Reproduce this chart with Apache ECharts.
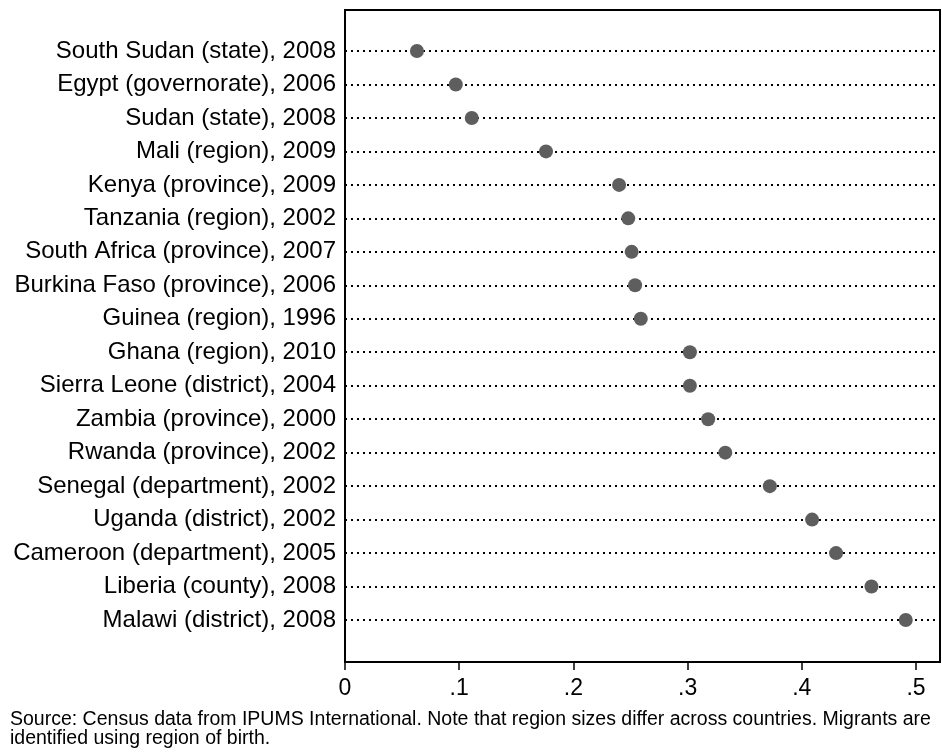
<!DOCTYPE html>
<html><head><meta charset="utf-8">
<script src="https://cdn.jsdelivr.net/npm/echarts@6/dist/echarts.min.js"></script>
<style>html,body{margin:0;padding:0;background:#fff}#c{width:942px;height:753px}</style>
</head><body><div id="c"></div>
<script>
const categories = [
  "South Sudan (state), 2008","Egypt (governorate), 2006","Sudan (state), 2008","Mali (region), 2009",
  "Kenya (province), 2009","Tanzania (region), 2002","South Africa (province), 2007","Burkina Faso (province), 2006",
  "Guinea (region), 1996","Ghana (region), 2010","Sierra Leone (district), 2004","Zambia (province), 2000",
  "Rwanda (province), 2002","Senegal (department), 2002","Uganda (district), 2002","Cameroon (department), 2005",
  "Liberia (county), 2008","Malawi (district), 2008"
];
const values = [0.063,0.097,0.111,0.176,0.240,0.248,0.251,0.254,0.259,0.302,0.302,0.318,0.333,0.372,0.409,0.430,0.461,0.491];
const xTickLabels = {"0":"0","1":".1","2":".2","3":".3","4":".4","5":".5"};
const note = "Source: Census data from IPUMS International. Note that region sizes differ across countries. Migrants are\nidentified using region of birth.";

const FONT = "Liberation Sans, Arial, Helvetica, sans-serif";
const chart = echarts.init(document.getElementById('c'), null, {renderer:'canvas'});
chart.setOption({
  animation:false,
  backgroundColor:'#fff',
  title:{text:note, left:10, top:710, padding:0, textStyle:{fontFamily:FONT, fontSize:19.5, fontWeight:'normal', color:'#000', lineHeight:19}},
  grid:[
    {left:345, top:34.26, width:595, height:602.5, show:false, outerBoundsMode:'none', containLabel:false},
    {left:345, top:10, width:595, height:652, show:true, borderColor:'#000', borderWidth:2, backgroundColor:'transparent', outerBoundsMode:'none', containLabel:false}
  ],
  xAxis:[
    {gridIndex:0, type:'value', min:0, max:0.521, show:false},
    {gridIndex:1, type:'value', min:0, max:0.521, interval:0.1, position:'bottom',
     axisLine:{show:true, lineStyle:{color:'#000', width:2}},
     axisTick:{show:true, length:8, lineStyle:{color:'#000', width:1.5}},
     splitLine:{show:false},
     axisLabel:{fontFamily:FONT, fontSize:23, color:'#000', margin:15, showMaxLabel:false,
       formatter:v=>{const k=v*10; if(Math.abs(k-Math.round(k))>1e-6) return ''; return xTickLabels[String(Math.round(k))] ?? '';}}}
  ],
  yAxis:[
    {gridIndex:0, type:'category', data:categories, inverse:true, boundaryGap:true,
     axisLine:{show:false}, axisTick:{show:false}, splitLine:{show:false},
     axisLabel:{fontFamily:FONT, fontSize:24, color:'#000', margin:9}},
    {gridIndex:1, type:'value', min:0, max:1, show:false}
  ],
  series:[
    {type:'scatter', xAxisIndex:0, yAxisIndex:0, data:[], z:1,
     markLine:{silent:true, symbol:['none','none'], label:{show:false}, z:1,
       lineStyle:{color:'#000', type:[2,4], width:2},
       data:categories.map(c=>({yAxis:c}))}},
    {type:'scatter', xAxisIndex:0, yAxisIndex:0, data:values.map((v,i)=>[v,categories[i]]),
     symbol:'circle', symbolSize:14, itemStyle:{color:'#5e5e5e', opacity:1}, z:10}
  ]
});
</script></body></html>
